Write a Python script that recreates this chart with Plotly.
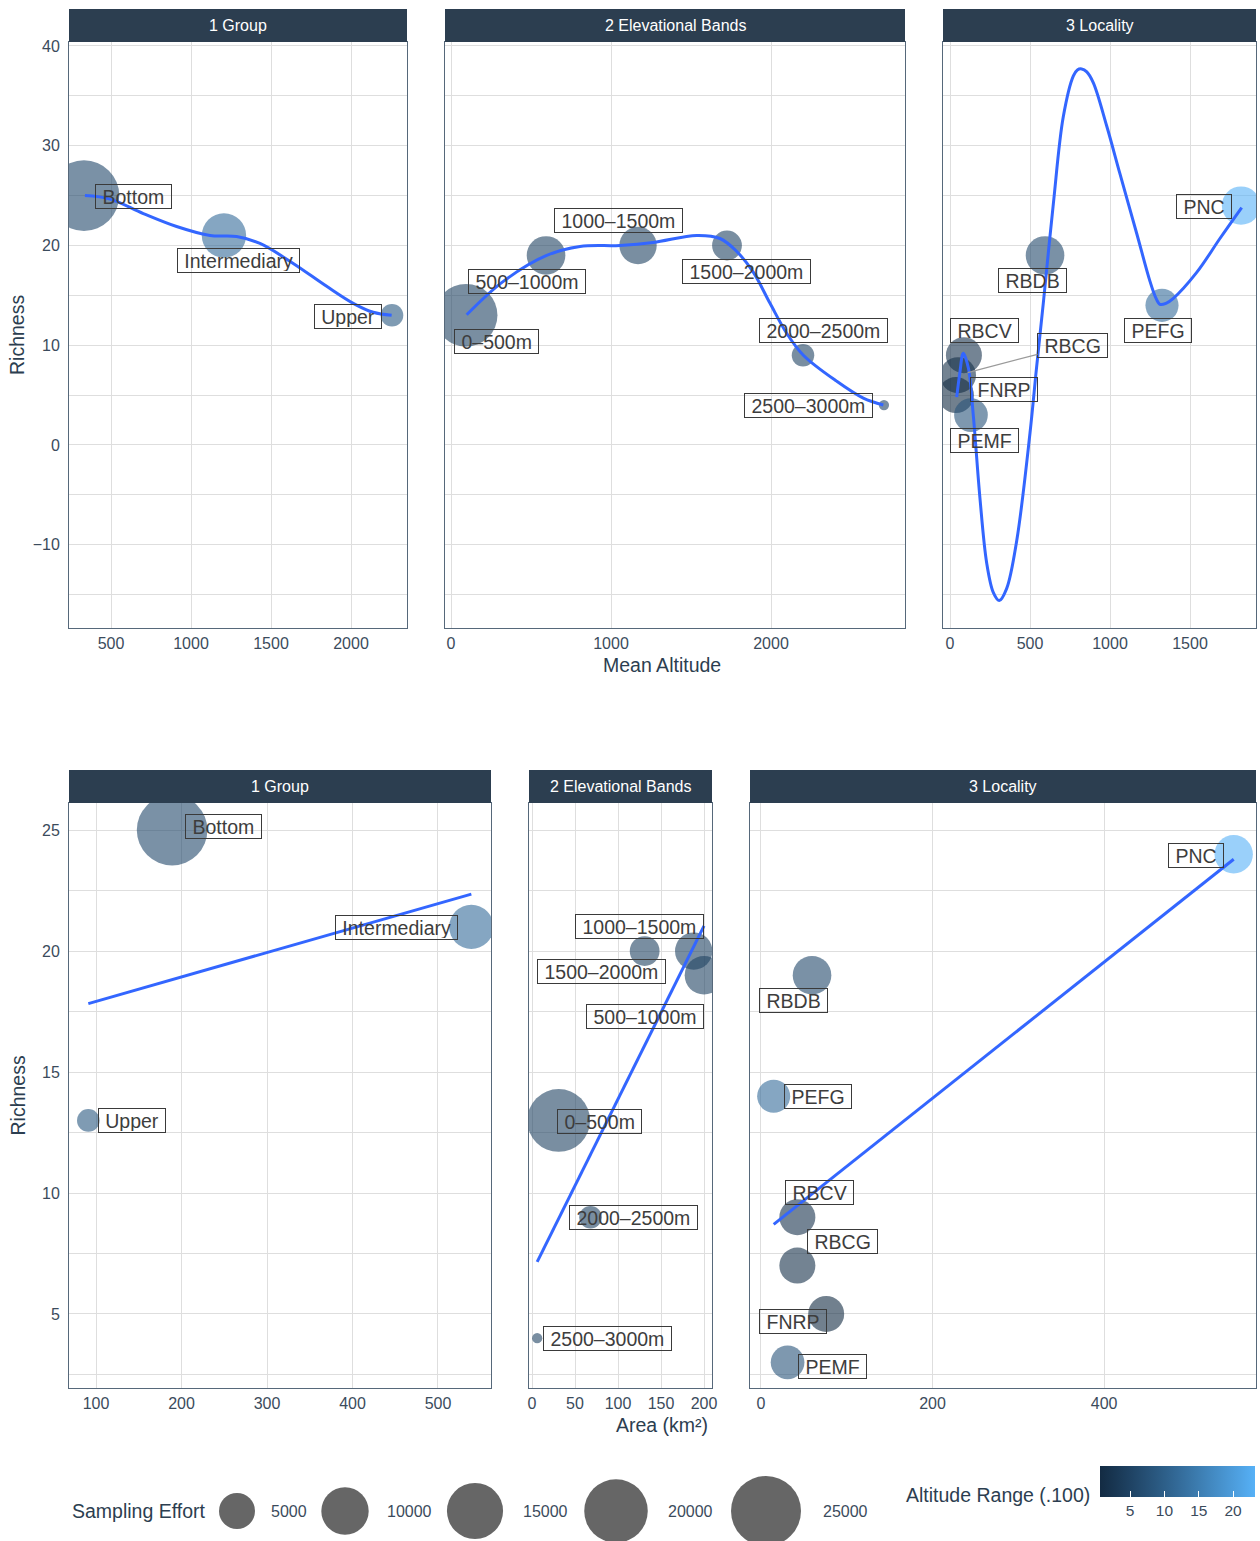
import numpy as np
import plotly.graph_objects as go

# ---------------- data ----------------
groups = ["Bottom", "Intermediary", "Upper"]
group_altitude = [331, 1206, 2256]
group_area = [189, 539, 91]
group_richness = [25, 21, 13]
group_effort = [25500, 8500, 1320]
group_alt_range = [6, 12, 9]

bands = ["0–500m", "500–1000m", "1000–1500m", "1500–2000m", "2000–2500m", "2500–3000m"]
band_altitude = [94, 594, 1169, 1725, 2200, 2706]
band_area = [31, 200, 188, 131, 68, 6]
band_richness = [13, 19, 20, 20, 9, 4]
band_effort = [19500, 6000, 5500, 3000, 1300, 20]
band_alt_range = [5, 5, 5, 5, 5, 5]

localities = ["PNC", "RBDB", "PEFG", "RBCV", "RBCG", "FNRP", "PEMF"]
loc_altitude = [1819, 594, 1325, 87, 50, 37, 131]
loc_area = [551, 59.5, 14.8, 42.4, 42.4, 76, 31]
loc_richness = [24, 19, 14, 9, 7, 5, 3]
loc_effort = [5900, 6000, 4000, 5000, 5000, 5000, 4200]
loc_alt_range = [23.2, 6, 12, 2, 1.5, 0.6, 8]

# fitted smooth curves (Richness ~ Mean Altitude)
smooth_group_x = [337, 494, 702, 910, 1119, 1285, 1431, 1639, 1848, 2014, 2139, 2254]
smooth_group_y = [25.0, 24.65, 23.2, 21.9, 21.0, 20.9, 20.2, 18.2, 15.9, 14.2, 13.3, 13.0]
smooth_band_x = [98, 327, 598, 806, 1056, 1264, 1535, 1681, 1786, 1890, 1994, 2098, 2202, 2410, 2577, 2702]
smooth_band_y = [13.05, 16.4, 19.0, 19.9, 20.0, 20.3, 21.0, 20.7, 19.4, 17.3, 14.2, 11.2, 9.0, 6.4, 4.7, 4.0]
smooth_loc_x = [42, 62, 83, 115, 146, 187, 229, 271, 308, 354, 417, 500, 540, 583, 646, 708, 771, 796,
                823, 855, 896, 979, 1062, 1167, 1250, 1285, 1312, 1350, 1396, 1542, 1687, 1823]
smooth_loc_y = [4.8, 7.3, 9.2, 7.7, 2.9, -5.3, -11.8, -14.8, -15.6, -14.4, -9.6, 1.2, 7.6, 14.2, 24.2,
                32.9, 37.0, 37.6, 37.7, 37.4, 36.3, 32.0, 27.2, 21.2, 16.4, 14.8, 14.1, 14.2, 14.7,
                17.3, 20.7, 23.8]

effort_breaks = [5000, 10000, 15000, 20000, 25000]
range_breaks = [5, 10, 15, 20]

# ---------------- style ----------------
W, H = 1260, 1541
FONT = "Liberation Sans"
INK = "#2C3E50"
TICK_INK = "#3b4b5c"
GRID = "#DEDEDE"
LINE_BLUE = "#3366FF"
LABEL_INK = "#3d3d3d"
LABEL_SIZE = 19.5

# Arial / Liberation Sans advance widths (em) for label boxes
CHAR_EM = {c: 0.556 for c in "0123456789–aenopd"}
CHAR_EM.update({"m": 0.833, "B": 0.667, "t": 0.278, "I": 0.278, "r": 0.333, "i": 0.222,
                "y": 0.5, "U": 0.722, "P": 0.667, "N": 0.722, "C": 0.722, "R": 0.722,
                "D": 0.722, "E": 0.667, "F": 0.611, "G": 0.778, "V": 0.667, "M": 0.833})


def text_px(s, size):
    return sum(CHAR_EM.get(c, 0.556) for c in s) * size


def size_px(v):
    return 8.5 + 0.389 * np.sqrt(np.asarray(v, dtype=float))


# gradient #132B43 -> #56B1F7 interpolated in CIE Lab
def _hex2rgb(h):
    return [int(h[i:i + 2], 16) / 255 for i in (1, 3, 5)]


def _lin(c):
    return c / 12.92 if c <= 0.04045 else ((c + 0.055) / 1.055) ** 2.4


def _unlin(c):
    return 12.92 * c if c <= 0.0031308 else 1.055 * c ** (1 / 2.4) - 0.055


def _rgb2lab(rgb):
    r, g, b = [_lin(c) for c in rgb]
    X = (0.4124 * r + 0.3576 * g + 0.1805 * b) / 0.95047
    Y = 0.2126 * r + 0.7152 * g + 0.0722 * b
    Z = (0.0193 * r + 0.1192 * g + 0.9505 * b) / 1.08883
    f = lambda t: t ** (1 / 3) if t > 0.008856 else 7.787 * t + 16 / 116
    fx_, fy_, fz_ = f(X), f(Y), f(Z)
    return 116 * fy_ - 16, 500 * (fx_ - fy_), 200 * (fy_ - fz_)


def _lab2hex(L, a, b):
    fy_ = (L + 16) / 116
    fx_ = fy_ + a / 500
    fz_ = fy_ - b / 200
    finv = lambda t: t ** 3 if t ** 3 > 0.008856 else (t - 16 / 116) / 7.787
    X, Y, Z = 0.95047 * finv(fx_), finv(fy_), 1.08883 * finv(fz_)
    r = 3.2406 * X - 1.5372 * Y - 0.4986 * Z
    g = -0.9689 * X + 1.8758 * Y + 0.0415 * Z
    bb = 0.0557 * X - 0.2040 * Y + 1.0570 * Z
    out = [int(round(255 * min(1, max(0, _unlin(c))))) for c in (r, g, bb)]
    return "#%02x%02x%02x" % tuple(out)


lo, hi = _rgb2lab(_hex2rgb("#132B43")), _rgb2lab(_hex2rgb("#56B1F7"))
colorscale = []
for t in np.linspace(0, 1, 11):
    colorscale.append([float(t), _lab2hex(*[lo[k] + (hi[k] - lo[k]) * t for k in range(3)])])

all_ranges = group_alt_range + band_alt_range + loc_alt_range
cmin, cmax = min(all_ranges), max(all_ranges)

# panel geometry in pixels: (left, right), (top, bottom)
top_rows = (42, 628)
bot_rows = (803, 1388)
top_cols = [(69, 407), (445, 905), (943, 1256)]
bot_cols = [(69, 491), (529, 712), (750, 1256)]
strip_h = 33
titles = ["1 Group", "2 Elevational Bands", "3 Locality"]

x_ranges = [[237.5, 2350], [-37.5, 2837.5], [-43.75, 1912.5],
            [68.4, 562], [-3.5, 209.3], [-12.8, 577]]
x_dticks = [500, 1000, 500, 100, 50, 200]
y_top = [-18.35, 40.4]
y_bot = [1.94, 26.12]


def fx(p):
    return p / W


def fy(p):
    return 1 - p / H


fig = go.Figure()
layout = dict(
    width=W, height=H, margin=dict(l=0, r=0, t=0, b=0, autoexpand=False),
    autosize=False,
    paper_bgcolor="white", plot_bgcolor="white",
    font=dict(family=FONT, color=INK),
    showlegend=False,
    coloraxis=dict(
        colorscale=colorscale, cmin=cmin, cmax=cmax,
        colorbar=dict(
            orientation="h", x=fx((1100 + 1255) / 2), xanchor="center",
            y=fy(1466), yanchor="top", len=155, lenmode="pixels",
            thickness=31, thicknessmode="pixels", xpad=0, ypad=0,
            outlinewidth=0, ticks="inside", ticklen=6, tickcolor="white",
            tickwidth=1, tickvals=range_breaks,
            tickfont=dict(size=15.5, color=TICK_INK, family=FONT),
            title=dict(text=""),
        ),
    ),
)

shapes = []
annotations = []

panels = []
for i, (c0, c1) in enumerate(top_cols):
    panels.append(((c0, c1), top_rows, titles[i], "top"))
for i, (c0, c1) in enumerate(bot_cols):
    panels.append(((c0, c1), bot_rows, titles[i], "bot"))

for k, ((c0, c1), (r0, r1), title, row) in enumerate(panels):
    n = k + 1
    xname = "xaxis" if n == 1 else f"xaxis{n}"
    yname = "yaxis" if n == 1 else f"yaxis{n}"
    first_in_row = n in (1, 4)
    axis_common = dict(
        showline=True, mirror=True, linecolor="#56687a", linewidth=1,
        zeroline=False, showgrid=True, gridcolor=GRID, gridwidth=1,
        ticks="outside", tickcolor="rgba(0,0,0,0)",
        tickfont=dict(size=16, color=TICK_INK, family=FONT),
    )
    layout[xname] = dict(
        axis_common, domain=[fx(c0), fx(c1)], anchor=f"y{n}", ticklen=1,
        range=x_ranges[k], dtick=x_dticks[k], tick0=0,
    )
    yr = y_top if row == "top" else y_bot
    ydt = 10 if row == "top" else 5
    layout[yname] = dict(
        axis_common, domain=[fy(r1), fy(r0)], anchor=f"x{n}", ticklen=5,
        range=yr, dtick=ydt, tick0=0,
        minor=dict(dtick=ydt / 2, tick0=0, showgrid=True, gridcolor=GRID, gridwidth=1,
                   ticks=""),
        showticklabels=first_in_row,
    )
    if not first_in_row:
        layout[yname]["matches"] = "y" if row == "top" else "y4"
    # facet strip
    shapes.append(dict(type="rect", xref="paper", yref="paper",
                       x0=fx(c0), x1=fx(c1), y0=fy(r0), y1=fy(r0 - strip_h),
                       fillcolor=INK, line=dict(width=0), layer="above"))
    annotations.append(dict(xref="paper", yref="paper", x=fx((c0 + c1) / 2),
                            y=fy(r0 - strip_h / 2), text=title, showarrow=False,
                            font=dict(size=16, color="white", family=FONT),
                            xanchor="center", yanchor="middle"))


def bubbles(n, xs, ys, eff, rng):
    sfx = "" if n == 1 else str(n)
    fig.add_trace(go.Scatter(
        x=xs, y=ys, mode="markers", xaxis="x" + sfx, yaxis="y" + sfx,
        marker=dict(size=size_px(eff), sizemode="diameter", color=rng,
                    coloraxis="coloraxis", opacity=0.6, line=dict(width=0)),
        hoverinfo="skip", showlegend=False,
    ))


def curve(n, xs, ys, spline=True):
    sfx = "" if n == 1 else str(n)
    fig.add_trace(go.Scatter(
        x=xs, y=ys, mode="lines", xaxis="x" + sfx, yaxis="y" + sfx,
        line=dict(color=LINE_BLUE, width=3, shape="spline" if spline else "linear",
                  smoothing=1.0),
        hoverinfo="skip", showlegend=False,
    ))


def lm_line(xs, ys):
    slope, icpt = np.polyfit(xs, ys, 1)
    xx = np.array([min(xs), max(xs)], dtype=float)
    return xx, slope * xx + icpt


# label offsets from their point (pixels right, pixels down)
label_offsets = {
    1: [(50, 1), (14.5, 25), (-43.5, 1)],
    2: [(30.5, 26), (-19, 26), (-19.5, -24.5), (19.5, 26), (20.5, -24.5), (-75, 0.5)],
    3: [(-37, 0.5), (-13, 25.5), (-4.5, 25.5), (21, -25), (114.5, -30), (48, -5.5), (14, 25.5)],
    4: [(51, -4), (-74.5, 0.5), (44, 0.5)],
    5: [(41, 1), (-59, 41), (-54, -25), (-43.5, 20), (43, 0.5), (70.5, 0.5)],
    6: [(-38, 1), (-18.5, 25.6), (44, 0), (22, -25), (45, -24), (-33, 8), (44.5, 4)],
}
segment_labels = {(3, "RBCG")}


def labels(n, names, xs, ys):
    sfx = "" if n == 1 else str(n)
    for name, x, y, (dx, dy) in zip(names, xs, ys, label_offsets[n]):
        a = dict(x=x, y=y, xref="x" + sfx, yref="y" + sfx, text=name,
                 font=dict(size=LABEL_SIZE, color=LABEL_INK, family=FONT),
                 width=text_px(name, LABEL_SIZE) + 11, height=21, align="center",
                 valign="middle",
                 bordercolor="#3a3a3a", borderwidth=1, borderpad=1,
                 bgcolor="rgba(255,255,255,0)", xanchor="center", yanchor="middle")
        if (n, name) in segment_labels:
            a.update(showarrow=True, ax=dx, ay=dy, arrowhead=0, arrowwidth=1.2,
                     arrowcolor="#9a9a9a", standoff=10)
        else:
            a.update(showarrow=False, xshift=dx, yshift=-dy)
        annotations.append(a)


# top row: richness vs mean altitude
bubbles(1, group_altitude, group_richness, group_effort, group_alt_range)
curve(1, smooth_group_x, smooth_group_y)
labels(1, groups, group_altitude, group_richness)

bubbles(2, band_altitude, band_richness, band_effort, band_alt_range)
curve(2, smooth_band_x, smooth_band_y)
labels(2, bands, band_altitude, band_richness)

bubbles(3, loc_altitude, loc_richness, loc_effort, loc_alt_range)
curve(3, smooth_loc_x, smooth_loc_y)
labels(3, localities, loc_altitude, loc_richness)

# bottom row: richness vs area with linear fits
bubbles(4, group_area, group_richness, group_effort, group_alt_range)
curve(4, *lm_line(group_area, group_richness), spline=False)
labels(4, groups, group_area, group_richness)

bubbles(5, band_area, band_richness, band_effort, band_alt_range)
curve(5, *lm_line(band_area, band_richness), spline=False)
labels(5, bands, band_area, band_richness)

bubbles(6, loc_area, loc_richness, loc_effort, loc_alt_range)
curve(6, *lm_line(loc_area, loc_richness), spline=False)
labels(6, localities, loc_area, loc_richness)

# colour bar carrier (invisible)
fig.add_trace(go.Scatter(
    x=[None], y=[None], mode="markers", xaxis="x", yaxis="y",
    marker=dict(color=[cmin], coloraxis="coloraxis", showscale=True),
    showlegend=False, hoverinfo="skip",
))

# size legend on its own pixel-scaled axis
legend_key_x = [237, 345, 475, 616, 766]
legend_text_x = [269, 385, 521, 666, 821]
legend_y = 1511
layout["xaxis7"] = dict(domain=[0, 1], range=[0, W], visible=False, anchor="y7")
layout["yaxis7"] = dict(domain=[0, 90 / H], range=[H, H - 90], visible=False, anchor="x7")
fig.add_trace(go.Scatter(
    x=legend_key_x, y=[legend_y] * len(effort_breaks), mode="markers",
    xaxis="x7", yaxis="y7", cliponaxis=False,
    marker=dict(size=size_px(effort_breaks), sizemode="diameter", color="#666666",
                opacity=1, line=dict(width=0)),
    hoverinfo="skip", showlegend=False,
))
for tx, v in zip(legend_text_x, effort_breaks):
    annotations.append(dict(xref="paper", yref="paper", x=fx(tx), y=fy(legend_y),
                            text=str(v), showarrow=False, xanchor="left", yanchor="middle",
                            font=dict(size=16, color=TICK_INK, family=FONT)))
annotations.append(dict(xref="paper", yref="paper", x=fx(70), y=fy(legend_y),
                        text="Sampling Effort", showarrow=False, xanchor="left",
                        yanchor="middle", font=dict(size=19.5, color=INK, family=FONT)))
annotations.append(dict(xref="paper", yref="paper", x=fx(1092), y=fy(1495),
                        text="Altitude Range (.100)", showarrow=False, xanchor="right",
                        yanchor="middle", font=dict(size=19.5, color=INK, family=FONT)))

# axis titles
for yc in ((top_rows[0] + top_rows[1]) / 2, (bot_rows[0] + bot_rows[1]) / 2):
    annotations.append(dict(xref="paper", yref="paper", x=fx(17), y=fy(yc),
                            text="Richness", textangle=-90, showarrow=False,
                            xanchor="center", yanchor="middle",
                            font=dict(size=19.5, color=INK, family=FONT)))
annotations.append(dict(xref="paper", yref="paper", x=fx(662), y=fy(665),
                        text="Mean Altitude", showarrow=False, xanchor="center",
                        yanchor="middle", font=dict(size=19.5, color=INK, family=FONT)))
annotations.append(dict(xref="paper", yref="paper", x=fx(662), y=fy(1425),
                        text="Area (km²)", showarrow=False, xanchor="center",
                        yanchor="middle", font=dict(size=19.5, color=INK, family=FONT)))

layout["shapes"] = shapes
layout["annotations"] = annotations
fig.update_layout(**layout)
fig.write_html("out.html")
